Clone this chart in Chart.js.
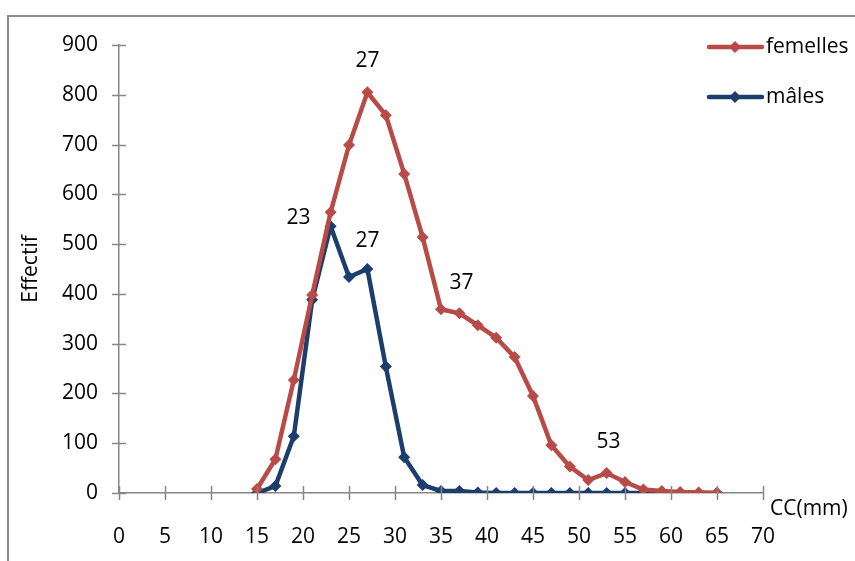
<!DOCTYPE html>
<html><head><meta charset="utf-8">
<script src="https://cdn.jsdelivr.net/npm/chart.js@4/dist/chart.umd.min.js"></script>
<style>html,body{margin:0;padding:0;background:#fff;}#wrap{width:855px;height:561px;position:relative;}</style>
</head><body><div id="wrap"><canvas id="c" width="855" height="561"></canvas></div>
<script>
const ccValues = [15,17,19,21,23,25,27,29,31,33,35,37,39,41,43,45,47,49,51,53,55,57,59,61,63,65];
const femelles = [8,68,227,398,564,699,805,759,641,514,369,361,337,312,273,195,96,53,26,40,22,7,4,2,1,0];
const males    = [0,14,114,388,536,434,450,254,72,16,4,4,1,0,0,0,0,0,0,0,0,0,0,0,0,0];
const seriesNames = ['femelles','mâles'];
const xTicks = [0,5,10,15,20,25,30,35,40,45,50,55,60,65,70];
const yTicks = [0,100,200,300,400,500,600,700,800,900];
const xTitle = 'CC(mm)';
const yTitle = 'Effectif';
// labelled points: [series index, x value]
const labelledPoints = [[0,27],[1,23],[1,27],[0,37],[0,53]];

const RED = '#B84A47', BLUE = '#1C3E6C', AXIS = '#868686';
const FONT = '"Open Sans", Lato, sans-serif';
const FS = 21;
const labelOffsets = [[0,-31],[-32,-8],[0,-28],[2,-30],[2,-31]];

function toXY(vals){ return ccValues.map((x,i)=>({x:x,y:vals[i]})); }

const framePlugin = {
  id:'frame',
  beforeDraw(chart){
    const ctx = chart.ctx;
    ctx.save();
    ctx.strokeStyle = '#8c8c8c'; ctx.lineWidth = 2;
    ctx.beginPath(); ctx.moveTo(8,561); ctx.lineTo(8,16); ctx.lineTo(855,16); ctx.stroke();
    ctx.restore();
  },
  afterDraw(chart){
    const ctx = chart.ctx, xs = chart.scales.x, ys = chart.scales.y;
    ctx.save();
    ctx.strokeStyle = AXIS; ctx.lineWidth = 1.5;
    const y0 = ys.getPixelForValue(0), x0 = xs.getPixelForValue(0);
    xTicks.forEach(v=>{ const px = Math.round(xs.getPixelForValue(v))+0.5; ctx.beginPath(); ctx.moveTo(px,y0-7); ctx.lineTo(px,y0+7); ctx.stroke(); });
    yTicks.forEach(v=>{ const py = Math.round(ys.getPixelForValue(v))+0.5; ctx.beginPath(); ctx.moveTo(x0-7,py); ctx.lineTo(x0+7,py); ctx.stroke(); });
    // x title
    ctx.fillStyle = '#000'; ctx.font = FS+'px '+FONT; ctx.textBaseline='middle'; ctx.textAlign='left';
    ctx.fillText(xTitle, xs.right+7, y0+16);
    // data labels
    ctx.textAlign='center';
    labelledPoints.forEach((lp,i)=>{
      const meta = chart.getDatasetMeta(lp[0]);
      const idx = ccValues.indexOf(lp[1]);
      const pt = meta.data[idx];
      ctx.fillText(String(lp[1]), pt.x+labelOffsets[i][0], pt.y+labelOffsets[i][1]);
    });
    // legend
    const colors=[RED,BLUE], ly=[47,97];
    seriesNames.forEach((n,i)=>{
      ctx.strokeStyle=colors[i]; ctx.fillStyle=colors[i]; ctx.lineWidth=4.5; ctx.lineCap='round';
      ctx.beginPath(); ctx.moveTo(709,ly[i]); ctx.lineTo(762,ly[i]); ctx.stroke();
      ctx.beginPath(); ctx.moveTo(735,ly[i]-6); ctx.lineTo(741,ly[i]); ctx.lineTo(735,ly[i]+6); ctx.lineTo(729,ly[i]); ctx.closePath(); ctx.fill();
      ctx.fillStyle='#000'; ctx.textAlign='left'; ctx.fillText(n, 766, ly[i]);
    });
    ctx.restore();
  }
};

new Chart(document.getElementById('c'), {
  type:'line',
  data:{datasets:[
    {label:seriesNames[0], data:toXY(femelles), borderColor:RED, backgroundColor:RED, borderWidth:4.5, pointStyle:'rectRot', pointRadius:6, pointBorderWidth:0, tension:0},
    {label:seriesNames[1], data:toXY(males), borderColor:BLUE, backgroundColor:BLUE, borderWidth:4.5, pointStyle:'rectRot', pointRadius:6, pointBorderWidth:0, tension:0}
  ]},
  options:{
    responsive:false, animation:false, devicePixelRatio:1,
    layout:{padding:{left:0,top:45,right:92,bottom:0}},
    plugins:{legend:{display:false}, tooltip:{enabled:false}},
    scales:{
      x:{type:'linear', min:0, max:70, afterBuildTicks(s){ s.ticks = xTicks.map(v=>({value:v})); },
        afterFit(s){ s.height = 68; },
        grid:{display:false, drawTicks:false},
        border:{display:true, color:AXIS, width:1.5},
        ticks:{color:'#000', font:{family:FONT,size:FS}, padding:31, maxRotation:0, autoSkip:false}
      },
      y:{min:0, max:900, afterBuildTicks(s){ s.ticks = yTicks.map(v=>({value:v})); },
        afterFit(s){ s.width = 119; },
        grid:{display:false, drawTicks:false},
        border:{display:true, color:AXIS, width:1.5},
        title:{display:true, text:yTitle, color:'#000', font:{family:FONT,size:FS}, padding:{top:18,bottom:0}},
        ticks:{color:'#000', font:{family:FONT,size:FS}, padding:21, autoSkip:false}
      }
    }
  },
  plugins:[framePlugin]
});
</script></body></html>
